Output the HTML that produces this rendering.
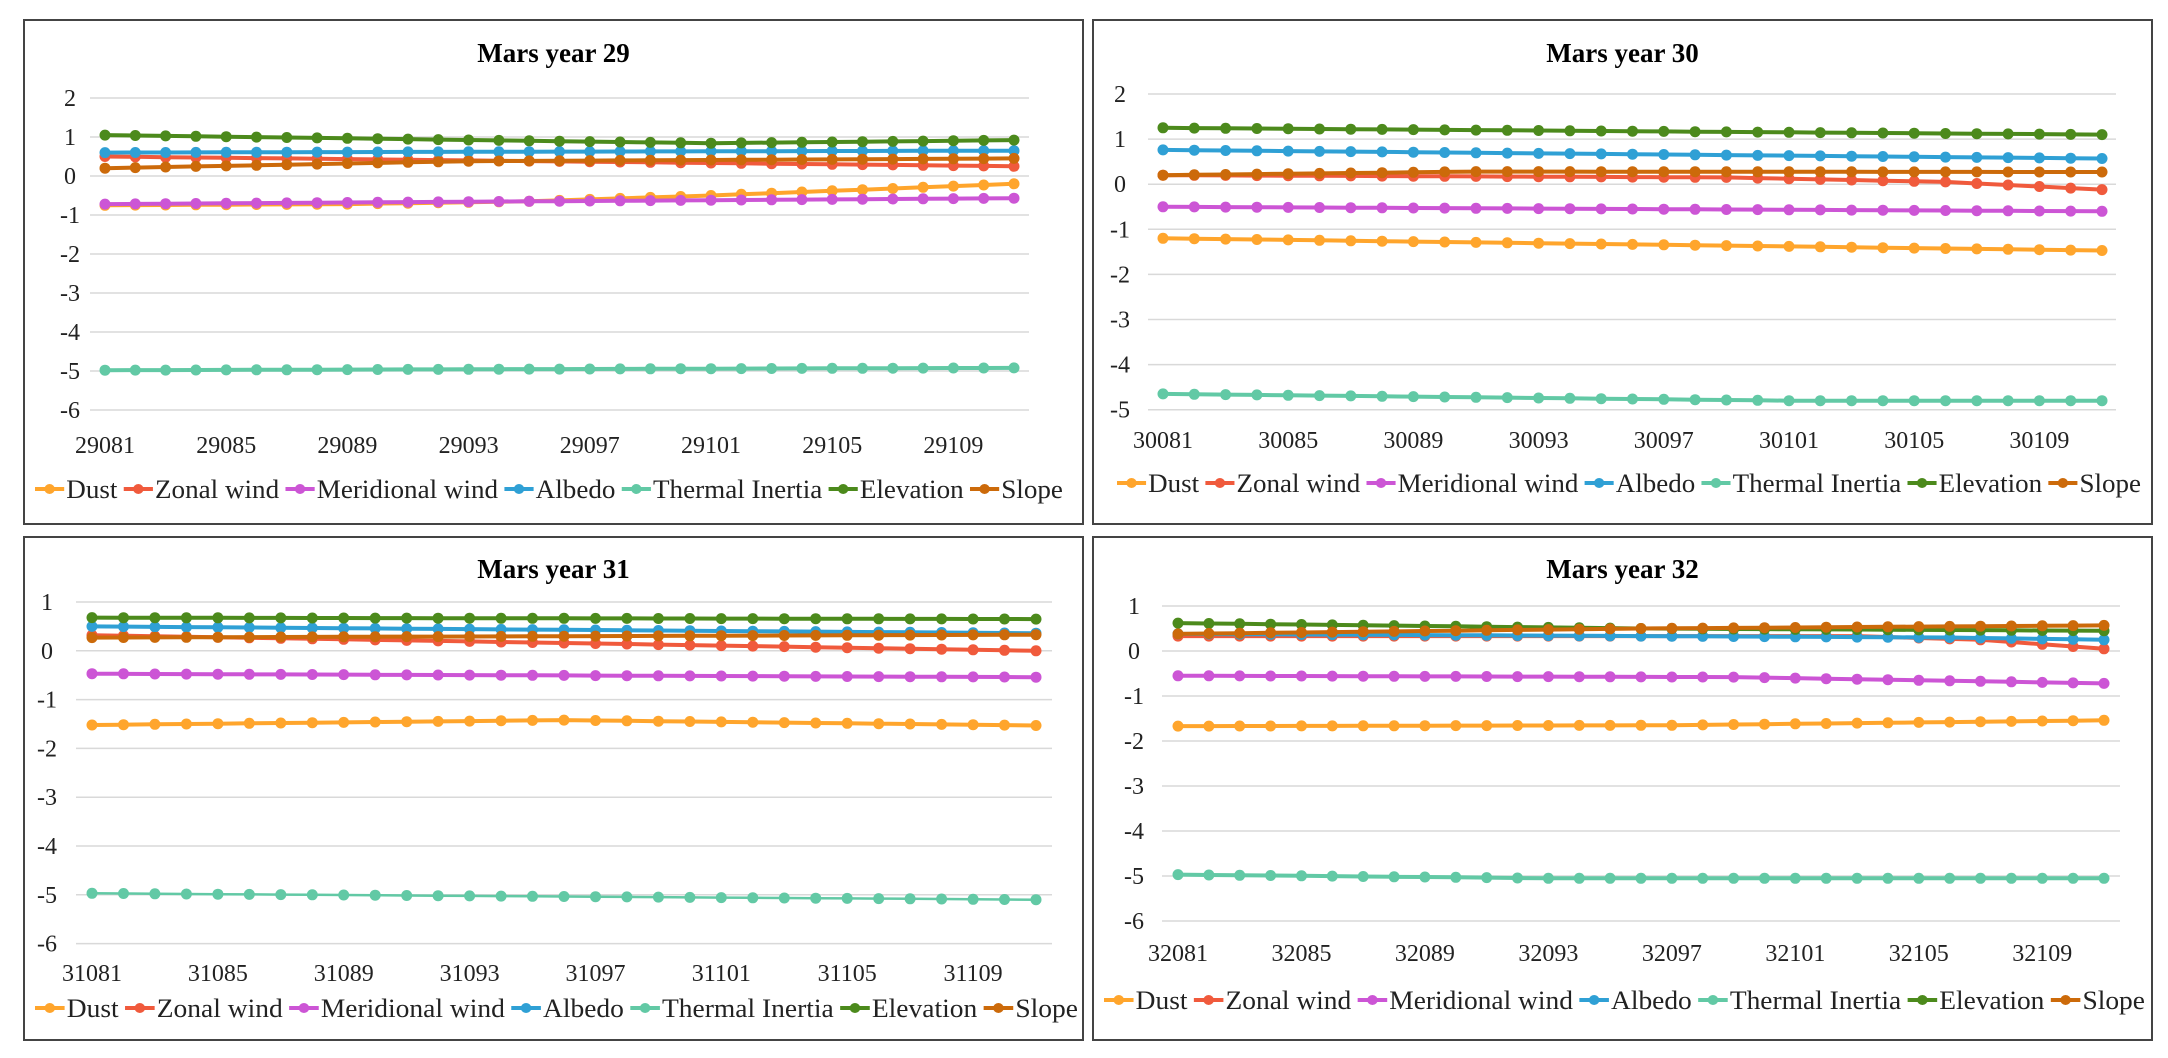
<!DOCTYPE html>
<html><head><meta charset="utf-8"><style>
html,body{margin:0;padding:0;background:#fff;}
svg{display:block;}
</style></head><body>
<svg id="s" width="2168" height="1058" xmlns="http://www.w3.org/2000/svg" font-family="'Liberation Serif', serif"></svg>
<script>
const C={Dust:"#FFA52C",Zonal:"#F05A3C",Mer:"#CC55D5",Alb:"#2FA0D5",Th:"#62C9A5",Elev:"#4C8A1C",Slope:"#CC6A0A"};
function pw(knots){const a=[];for(let t=0;t<=30;t++){for(let i=0;i<knots.length-1;i++){const[t0,v0]=knots[i],[t1,v1]=knots[i+1];if(t>=t0&&t<=t1){a.push(v0+(v1-v0)*(t-t0)/(t1-t0));break;}}}return a;}
const panels=[
{box:[24,20,1083,524],title:"Mars year 29",ty:62,yMax:2,yMin:-6,y0:98,dy:39,gx0:90,gx1:1029,px0:105,px1:1014,lx:70,xl:453,leg:489,yr:29,
 s:{Dust:[[0,-0.75],[8,-0.72],[14,-0.65],[20,-0.5],[30,-0.2]],Zonal:[[0,0.5],[30,0.25]],Mer:[[0,-0.72],[30,-0.57]],Alb:[[0,0.6],[30,0.65]],Th:[[0,-4.98],[30,-4.92]],Elev:[[0,1.05],[20,0.84],[30,0.92]],Slope:[[0,0.2],[12,0.38],[30,0.45]]}},
{box:[1093,20,2152,524],title:"Mars year 30",ty:62,yMax:2,yMin:-5,y0:94,dy:45.1,gx0:1148,gx1:2116,px0:1163,px1:2102,lx:1120,xl:448,leg:483,yr:30,
 s:{Dust:[[0,-1.2],[30,-1.47]],Zonal:[[0,0.2],[18,0.15],[25,0.05],[30,-0.12]],Mer:[[0,-0.5],[30,-0.6]],Alb:[[0,0.76],[30,0.57]],Th:[[0,-4.65],[20,-4.8],[30,-4.8]],Elev:[[0,1.25],[30,1.1]],Slope:[[0,0.2],[10,0.28],[30,0.27]]}},
{box:[24,537,1083,1040],title:"Mars year 31",ty:578,yMax:1,yMin:-6,y0:602,dy:48.8,gx0:76,gx1:1052,px0:92,px1:1036,lx:47,xl:981,leg:1008,yr:31,
 s:{Dust:[[0,-1.52],[15,-1.42],[30,-1.53]],Zonal:[[0,0.32],[30,0.0]],Mer:[[0,-0.47],[30,-0.54]],Alb:[[0,0.5],[30,0.36]],Th:[[0,-4.97],[30,-5.1]],Elev:[[0,0.68],[30,0.65]],Slope:[[0,0.27],[30,0.33]]}},
{box:[1093,537,2152,1040],title:"Mars year 32",ty:578,yMax:1,yMin:-6,y0:606,dy:45,gx0:1162,gx1:2120,px0:1178,px1:2104,lx:1134,xl:961,leg:1000,yr:32,
 s:{Dust:[[0,-1.67],[16,-1.65],[30,-1.54]],Zonal:[[0,0.33],[22,0.33],[26,0.25],[30,0.05]],Mer:[[0,-0.55],[18,-0.58],[30,-0.72]],Alb:[[0,0.38],[25,0.3],[30,0.25]],Th:[[0,-4.97],[12,-5.05],[30,-5.05]],Elev:[[0,0.62],[15,0.5],[30,0.45]],Slope:[[0,0.38],[15,0.5],[30,0.57]]}}
];
const order=["Dust","Zonal","Mer","Alb","Th","Elev","Slope"];
const names={Dust:"Dust",Zonal:"Zonal wind",Mer:"Meridional wind",Alb:"Albedo",Th:"Thermal Inertia",Elev:"Elevation",Slope:"Slope"};
const drawOrder=["Th","Dust","Mer","Zonal","Alb","Elev","Slope"];
const NS="http://www.w3.org/2000/svg";
const svg=document.getElementById("s");
let h="";
panels.forEach((p,pi)=>{
 const[x0,y0,x1,y1]=p.box;
 h+=`<rect x="${x0}" y="${y0}" width="${x1-x0}" height="${y1-y0}" fill="#fff" stroke="#444" stroke-width="2"/>`;
 h+=`<text x="${(x0+x1)/2}" y="${p.ty}" text-anchor="middle" font-size="27" font-weight="bold" fill="#000">${p.title}</text>`;
 for(let v=p.yMax;v>=p.yMin;v--){const y=p.y0+(p.yMax-v)*p.dy;
  h+=`<line x1="${p.gx0}" y1="${y}" x2="${p.gx1}" y2="${y}" stroke="#d9d9d9" stroke-width="1.5"/>`;
  h+=`<text x="${p.lx}" y="${y+8}" text-anchor="middle" font-size="24" fill="#222">${v}</text>`;}
 const step=(p.px1-p.px0)/30;
 for(let t=0;t<=28;t+=4){h+=`<text x="${p.px0+t*step}" y="${p.xl}" text-anchor="middle" font-size="24" fill="#222">${p.yr}${String(81+t).padStart(3,"0")}</text>`;}
 drawOrder.forEach(k=>{const vals=pw(p.s[k]);const pts=vals.map((v,t)=>[p.px0+t*step,p.y0+(p.yMax-v)*p.dy]);
  const sw=(k=="Th"&&pi==2)?2.5:4;
  h+=`<polyline fill="none" stroke="${C[k]}" stroke-width="${sw}" stroke-linejoin="round" points="${pts.map(q=>q[0].toFixed(1)+","+q[1].toFixed(1)).join(" ")}"/>`;
  pts.forEach(q=>{h+=`<circle cx="${q[0].toFixed(1)}" cy="${q[1].toFixed(1)}" r="5.5" fill="${C[k]}"/>`;});});
 h+=`<g id="leg${pi}"></g>`;
});
svg.innerHTML=h;
panels.forEach((p,pi)=>{
 const g=document.getElementById("leg"+pi);
 const lx0=[35,1117,35,1104][pi],span=[1028,1024,1043,1041][pi];
 let x=0,s="";
 const meas=document.createElementNS(NS,"text");meas.setAttribute("font-size","26");svg.appendChild(meas);
 order.forEach((k,i)=>{
  meas.textContent=names[k];const w=meas.getComputedTextLength();
  s+=`<line x1="${x}" y1="0" x2="${x+28}" y2="0" stroke="${C[k]}" stroke-width="4"/><circle cx="${x+14}" cy="0" r="5" fill="${C[k]}"/>`;
  s+=`<text x="${x+30}" y="9" font-size="26" fill="#222">${names[k]}</text>`;
  x+=30+w+(i<6?6:0);
 });
 svg.removeChild(meas);
 g.setAttribute("transform",`translate(${lx0},${p.leg}) scale(${span/x},1)`);
 g.innerHTML=s;
});
</script>
</body></html>
